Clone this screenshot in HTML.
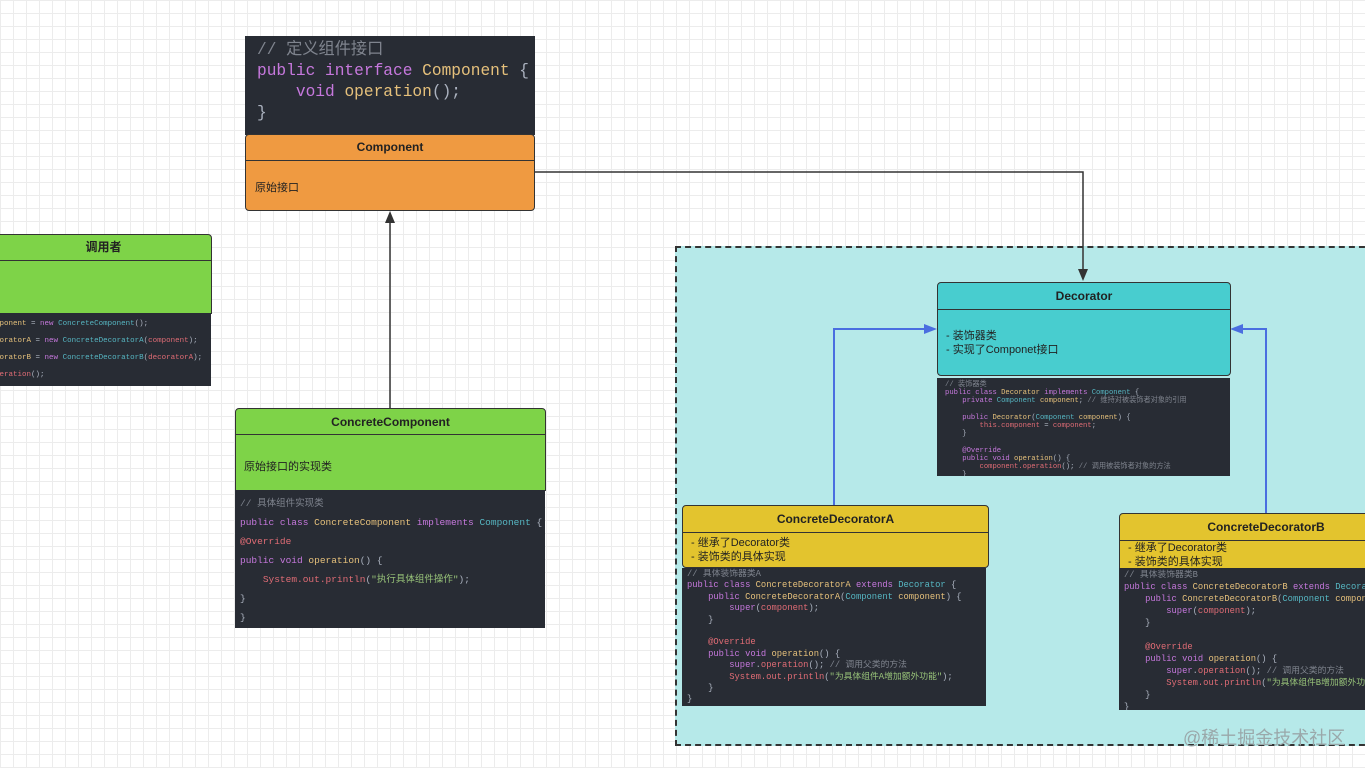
<!DOCTYPE html>
<html><head><meta charset="utf-8"><style>
*{margin:0;padding:0;box-sizing:border-box}
body{width:1365px;height:768px;overflow:hidden;position:relative;background-color:#fff;
background-image:linear-gradient(#ececec 1px,transparent 1px),linear-gradient(90deg,#ececec 1px,transparent 1px);
background-size:13px 13px;font-family:"Liberation Sans","Noto Sans CJK SC",sans-serif}
.a{position:absolute}
pre{position:absolute;font-family:"Liberation Mono","Noto Sans CJK SC",monospace;color:#abb2bf;white-space:pre;margin:0}
.code{position:absolute;background:#282c34;overflow:hidden}
.k{color:#c678dd}.y{color:#e5c07b}.c{color:#56b6c2}.r{color:#e06c75}.g{color:#98c379}.m{color:#7f848e}
.hd{position:absolute;border:1px solid #333;border-radius:4px 4px 0 0;font-weight:bold;font-size:12px;text-align:center;color:#222}
.bd{position:absolute;border:1px solid #333;font-size:11px;color:#222}
</style></head><body>

<div class="a" style="left:675px;top:246px;width:700px;height:500px;background:#b6e9e9;border:2px dashed #333"></div>

<svg class="a" style="left:0;top:0" width="1365" height="768">
<path d="M390 408 V220" stroke="#333" stroke-width="1.5" fill="none"/>
<path d="M390 211 L385 223 L395 223 Z" fill="#333"/>
<path d="M535 172 H1083 V272" stroke="#333" stroke-width="1.5" fill="none"/>
<path d="M1083 281 L1078 269 L1088 269 Z" fill="#333"/>
<path d="M834 505 V329 H928" stroke="#4a6ee0" stroke-width="2" fill="none"/>
<path d="M937 329 L924 324 L924 334 Z" fill="#4a6ee0"/>
<path d="M1266 513 V329 H1240" stroke="#4a6ee0" stroke-width="2" fill="none"/>
<path d="M1230 329 L1243 324 L1243 334 Z" fill="#4a6ee0"/>
</svg>

<div class="code" style="left:245px;top:36px;width:290px;height:99px">
<pre style="left:12px;top:4px;font-size:16.2px;line-height:21px"><span class="m">// 定义组件接口</span>
<span class="k">public interface</span> <span class="y">Component</span> {
    <span class="k">void</span> <span class="y">operation</span>();
}</pre></div>
<div class="hd" style="left:245px;top:134px;width:290px;height:27px;background:#ef9a41;line-height:25px">Component</div>
<div class="bd" style="left:245px;top:160px;width:290px;height:51px;background:#ef9a41;border-radius:0 0 4px 4px;padding:18px 0 0 9px">原始接口</div>

<div class="hd" style="left:-5px;top:234px;width:217px;height:27px;background:#7ed348;line-height:25px">调用者</div>
<div class="bd" style="left:-5px;top:260px;width:217px;height:54px;background:#7ed348"></div>
<div class="code" style="left:0;top:313px;width:211px;height:73px">
<pre style="left:-59px;top:3px;font-size:7.5px;line-height:17px"><span class="y">Component component</span> = <span class="k">new</span> <span class="c">ConcreteComponent</span>();
<span class="y">Decorator decoratorA</span> = <span class="k">new</span> <span class="c">ConcreteDecoratorA</span>(<span class="r">component</span>);
<span class="y">Decorator decoratorB</span> = <span class="k">new</span> <span class="c">ConcreteDecoratorB</span>(<span class="r">decoratorA</span>);
<span class="r">decoratorB.operation</span>();</pre></div>

<div class="hd" style="left:235px;top:408px;width:311px;height:27px;background:#7ed348;line-height:26px">ConcreteComponent</div>
<div class="bd" style="left:235px;top:434px;width:311px;height:57px;background:#7ed348;padding:23px 0 0 8px">原始接口的实现类</div>
<div class="code" style="left:235px;top:490px;width:310px;height:138px">
<pre style="left:5px;top:4px;font-size:9.5px;line-height:19px"><span class="m">// 具体组件实现类</span>
<span class="k">public class</span> <span class="y">ConcreteComponent</span> <span class="k">implements</span> <span class="c">Component</span> {
<span class="r">@Override</span>
<span class="k">public void</span> <span class="y">operation</span>() {
    <span class="r">System.out.println</span>(<span class="g">"执行具体组件操作"</span>);
}
}</pre></div>

<div class="hd" style="left:937px;top:282px;width:294px;height:28px;background:#48cdcf;line-height:26px">Decorator</div>
<div class="bd" style="left:937px;top:309px;width:294px;height:67px;background:#48cdcf;border-radius:0 0 4px 4px;padding:19px 0 0 8px;line-height:14px">- 装饰器类<br>- 实现了Componet接口</div>
<div class="code" style="left:937px;top:378px;width:293px;height:98px">
<pre style="left:8px;top:3px;font-size:7.2px;line-height:8.2px"><span class="m">// 装饰器类</span>
<span class="k">public class</span> <span class="y">Decorator</span> <span class="k">implements</span> <span class="c">Component</span> {
    <span class="k">private</span> <span class="c">Component</span> <span class="y">component</span>; <span class="m">// 维持对被装饰者对象的引用</span>

    <span class="k">public</span> <span class="y">Decorator</span>(<span class="c">Component</span> <span class="y">component</span>) {
        <span class="r">this.component</span> = <span class="r">component</span>;
    }

    <span class="k">@Override</span>
    <span class="k">public void</span> <span class="y">operation</span>() {
        <span class="r">component.operation</span>(); <span class="m">// 调用被装饰者对象的方法</span>
    }
}</pre></div>

<div class="hd" style="left:682px;top:505px;width:307px;height:28px;background:#e3c42e;line-height:26px">ConcreteDecoratorA</div>
<div class="bd" style="left:682px;top:532px;width:307px;height:36px;background:#e3c42e;border-radius:0 0 4px 4px;padding:3px 0 0 8px;line-height:14px">- 继承了Decorator类<br>- 装饰类的具体实现</div>
<div class="code" style="left:682px;top:568px;width:304px;height:138px">
<pre style="left:5px;top:1px;font-size:8.8px;line-height:11.4px"><span class="m">// 具体装饰器类A</span>
<span class="k">public class</span> <span class="y">ConcreteDecoratorA</span> <span class="k">extends</span> <span class="c">Decorator</span> {
    <span class="k">public</span> <span class="y">ConcreteDecoratorA</span>(<span class="c">Component</span> <span class="y">component</span>) {
        <span class="k">super</span>(<span class="r">component</span>);
    }

    <span class="r">@Override</span>
    <span class="k">public void</span> <span class="y">operation</span>() {
        <span class="k">super</span>.<span class="r">operation</span>(); <span class="m">// 调用父类的方法</span>
        <span class="r">System.out.println</span>(<span class="g">"为具体组件A增加额外功能"</span>);
    }
}</pre></div>

<div class="hd" style="left:1119px;top:513px;width:294px;height:28px;background:#e3c42e;line-height:26px">ConcreteDecoratorB</div>
<div class="bd" style="left:1119px;top:540px;width:294px;height:29px;background:#e3c42e;padding:0 0 0 8px;line-height:14px">- 继承了Decorator类<br>- 装饰类的具体实现</div>
<div class="code" style="left:1119px;top:568px;width:250px;height:142px">
<pre style="left:5px;top:1px;font-size:8.8px;line-height:12px"><span class="m">// 具体装饰器类B</span>
<span class="k">public class</span> <span class="y">ConcreteDecoratorB</span> <span class="k">extends</span> <span class="c">Decorator</span> {
    <span class="k">public</span> <span class="y">ConcreteDecoratorB</span>(<span class="c">Component</span> <span class="y">component</span>) {
        <span class="k">super</span>(<span class="r">component</span>);
    }

    <span class="r">@Override</span>
    <span class="k">public void</span> <span class="y">operation</span>() {
        <span class="k">super</span>.<span class="r">operation</span>(); <span class="m">// 调用父类的方法</span>
        <span class="r">System.out.println</span>(<span class="g">"为具体组件B增加额外功能"</span>);
    }
}</pre></div>

<div class="a" style="left:1183px;top:724px;font-size:18px;color:#9aa8aa">@稀土掘金技术社区</div>
</body></html>
